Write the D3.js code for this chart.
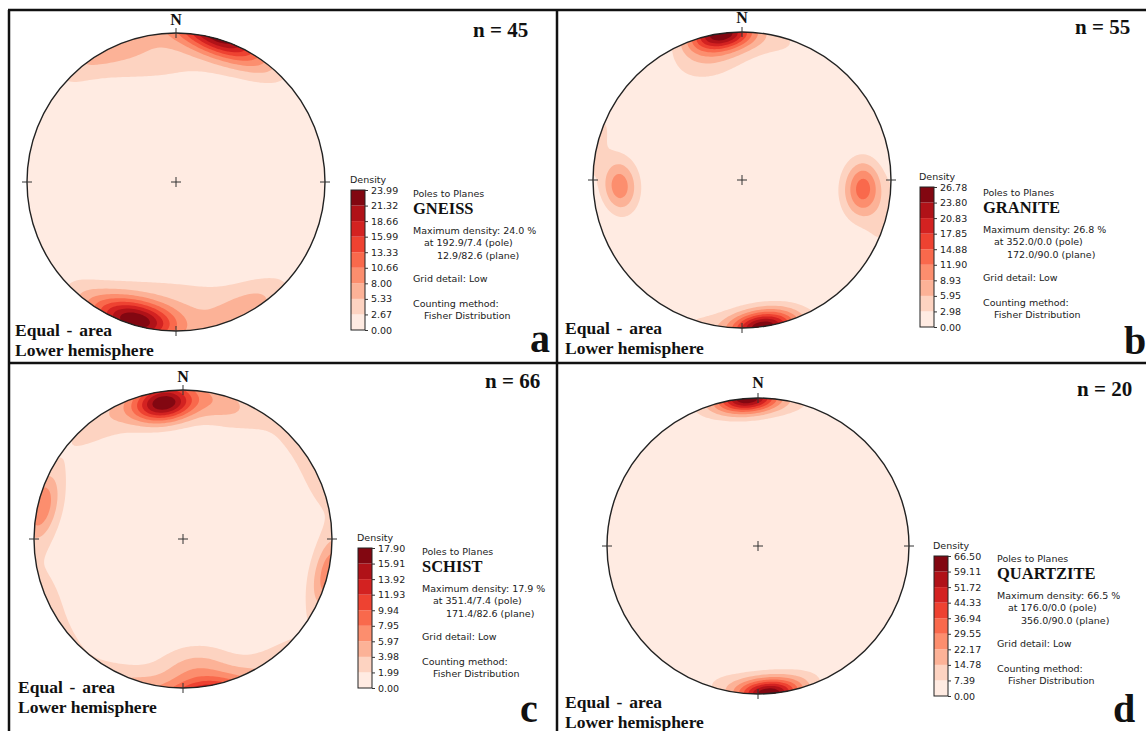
<!DOCTYPE html>
<html>
<head>
<meta charset="utf-8">
<script src="https://cdn.jsdelivr.net/npm/d3@7"></script>
<style>
  body { margin: 0; background: #fff; }
  svg { display: block; }
  .serif { font-family: "Liberation Serif", "Times New Roman", serif; font-weight: bold; fill: #111; }
  .sans { font-family: "DejaVu Sans", sans-serif; font-size: 9.5px; fill: #222; }
</style>
</head>
<body>
<div id="chart"></div>
<script>
// one entry per net
var rockTypes = ["GNEISS", "GRANITE", "SCHIST", "QUARTZITE"];
var panelLetters = ["a", "b", "c", "d"];
var sampleCounts = [45, 55, 66, 20];
var maxDensityText = ["24.0", "26.8", "17.9", "66.5"];
var poleText = ["192.9/7.4", "352.0/0.0", "351.4/7.4", "176.0/0.0"];
var planeText = ["12.9/82.6", "172.0/90.0", "171.4/82.6", "356.0/90.0"];

// colour bar tick labels (also the contour levels)
var gneissTicks = ["0.00", "2.67", "5.33", "8.00", "10.66", "13.33", "15.99", "18.66", "21.32", "23.99"];
var graniteTicks = ["0.00", "2.98", "5.95", "8.93", "11.90", "14.88", "17.85", "20.83", "23.80", "26.78"];
var schistTicks = ["0.00", "1.99", "3.98", "5.97", "7.95", "9.94", "11.93", "13.92", "15.91", "17.90"];
var quartziteTicks = ["0.00", "7.39", "14.78", "22.17", "29.55", "36.94", "44.33", "51.72", "59.11", "66.50"];

// pole clusters: [trend, plunge, weight, kappa]
var gneissPoles = [
  [190, 6, 5, 35], [199, 7, 5, 35], [18, 2, 5, 35], [30, 4, 2, 30],
  [148, 4, 2.6, 28], [165, 12, 1.2, 15], [340, 8, 1.8, 20], [0, 22, 1.4, 10],
  [185, 22, 1.4, 10], [215, 3, 1.5, 30], [300, 4, 0.8, 25]
];
var granitePoles = [
  [352, 0, 10, 45], [345, 15, 2, 22], [15, 3, 1.2, 25],
  [267, 19, 4.4, 45], [94, 20, 5.4, 42], [105, 3, 0.8, 30], [290, 2, 0.6, 30]
];
var schistPoles = [
  [352, 10, 8, 45], [15, 6, 2.5, 25], [335, 5, 1.5, 25], [283, 2, 4.2, 35],
  [172, 3, 1.5, 30], [175, 15, 2, 25], [315, 3, 0.9, 20], [45, 3, 0.9, 20],
  [250, 5, 0.7, 20], [70, 5, 0.6, 20]
];
var quartzitePoles = [
  [176, 0, 10, 55], [165, 2, 1.5, 35], [190, 2, 1.5, 35]
];

var panelTicks = [gneissTicks, graniteTicks, schistTicks, quartziteTicks];
var panelPoles = [gneissPoles, granitePoles, schistPoles, quartzitePoles];

// where each net sits on the page
var layout = [
  {cx: 176, cy: 182, rx: 149, ry: 149, nY: 25, countX: 473, countY: 37, eqX: 15, eqY: 336, letterX: 530, letterY: 352, barX: 351, barY: 190, textX: 413, textY: 197},
  {cx: 742, cy: 180, rx: 149, ry: 148, nY: 23, countX: 1075, countY: 34, eqX: 565, eqY: 334, letterX: 1124, letterY: 354, barX: 920, barY: 187, textX: 983, textY: 196},
  {cx: 183, cy: 539, rx: 149, ry: 149, nY: 382, countX: 485, countY: 388, eqX: 18, eqY: 693, letterX: 520, letterY: 722, barX: 358, barY: 548, textX: 422, textY: 555},
  {cx: 758, cy: 546, rx: 151, ry: 148, nY: 388, countX: 1077, countY: 396, eqX: 565, eqY: 708, letterX: 1113, letterY: 722, barX: 934, barY: 556, textX: 997, textY: 562}
];

var W = 1146, H = 731;
var gridSize = 140, gridExt = 1.03;
var barW = 14, barH = 140;

var svg = d3.select("#chart").append("svg").attr("width", W).attr("height", H);
var defs = svg.append("defs");

function toVector(trend, plunge) {
  var t = trend * Math.PI / 180, p = plunge * Math.PI / 180;
  return [Math.sin(t) * Math.cos(p), Math.cos(t) * Math.cos(p), Math.sin(p)];
}

// fisher counting on an equal-area grid, axial data
function densityGrid(poles, maxValue) {
  var values = new Float64Array(gridSize * gridSize);
  var dirs = poles.map(function(p) { return toVector(p[0], p[1]); });
  var top = 0;
  for (var j = 0; j < gridSize; j++) {
    for (var i = 0; i < gridSize; i++) {
      var u = -gridExt + 2 * gridExt * (i + 0.5) / gridSize;
      var v = -gridExt + 2 * gridExt * (j + 0.5) / gridSize;
      var rr = Math.sqrt(u * u + v * v);
      var r = Math.min(rr, Math.SQRT2 * 0.999);
      var plunge = 90 - 2 * Math.asin(r / Math.SQRT2) * 180 / Math.PI;
      var trend = Math.atan2(u, -v) * 180 / Math.PI;
      var n = toVector(trend, plunge);
      var s = 0;
      for (var k = 0; k < poles.length; k++) {
        var c = dirs[k];
        var cos = Math.abs(n[0] * c[0] + n[1] * c[1] + n[2] * c[2]);
        s += poles[k][2] * Math.exp(poles[k][3] * (cos - 1));
      }
      values[j * gridSize + i] = s;
      if (rr <= 1 && s > top) top = s;
    }
  }
  for (var m = 0; m < values.length; m++) values[m] = values[m] / top * maxValue;
  return values;
}

layout.forEach(function(L, idx) {
  var ticks = panelTicks[idx];
  var levels = ticks.map(function(t) { return +t; });
  var maxValue = levels[levels.length - 1];
  var bands = levels.length - 1;
  var color = function(i) { return d3.interpolateReds((i + 0.5) / bands); };

  var g = svg.append("g");

  // clip to the primitive circle
  defs.append("clipPath").attr("id", "clip" + idx)
    .append("ellipse").attr("cx", L.cx).attr("cy", L.cy).attr("rx", L.rx).attr("ry", L.ry);

  var xs = d3.scaleLinear().domain([0, gridSize]).range([L.cx - gridExt * L.rx, L.cx + gridExt * L.rx]);
  var ys = d3.scaleLinear().domain([0, gridSize]).range([L.cy - gridExt * L.ry, L.cy + gridExt * L.ry]);
  var path = d3.geoPath(d3.geoTransform({
    point: function(x, y) { this.stream.point(xs(x), ys(y)); }
  }));

  var values = densityGrid(panelPoles[idx], maxValue);
  var contours = d3.contours().size([gridSize, gridSize])
    .thresholds(levels.slice(0, bands))(values);

  var net = g.append("g").attr("clip-path", "url(#clip" + idx + ")");
  net.append("ellipse").attr("cx", L.cx).attr("cy", L.cy).attr("rx", L.rx).attr("ry", L.ry)
    .attr("fill", color(0));
  net.selectAll("path").data(contours).enter().append("path")
    .attr("d", path)
    .attr("fill", function(d, i) { return color(i); });

  // primitive circle, cardinal ticks, centre cross
  g.append("ellipse").attr("cx", L.cx).attr("cy", L.cy).attr("rx", L.rx).attr("ry", L.ry)
    .attr("fill", "none").attr("stroke", "#222").attr("stroke-width", 1.4);
  var tk = 5;
  var tickLines = [
    [L.cx, L.cy - L.ry - tk, L.cx, L.cy - L.ry + tk],
    [L.cx, L.cy + L.ry - tk, L.cx, L.cy + L.ry + tk],
    [L.cx - L.rx - tk, L.cy, L.cx - L.rx + tk, L.cy],
    [L.cx + L.rx - tk, L.cy, L.cx + L.rx + tk, L.cy],
    [L.cx - tk, L.cy, L.cx + tk, L.cy],
    [L.cx, L.cy - tk, L.cx, L.cy + tk]
  ];
  g.selectAll("line.tk").data(tickLines).enter().append("line")
    .attr("x1", function(d) { return d[0]; }).attr("y1", function(d) { return d[1]; })
    .attr("x2", function(d) { return d[2]; }).attr("y2", function(d) { return d[3]; })
    .attr("stroke", "#333").attr("stroke-width", 1);

  g.append("text").attr("class", "serif").attr("x", L.cx).attr("y", L.nY)
    .attr("text-anchor", "middle").style("font-size", "16px").text("N");
  g.append("text").attr("class", "serif").attr("x", L.countX).attr("y", L.countY)
    .style("font-size", "21px").text("n = " + sampleCounts[idx]);
  g.append("text").attr("class", "serif").attr("x", L.eqX).attr("y", L.eqY)
    .style("font-size", "17.5px").style("word-spacing", "2.5px").text("Equal - area");
  g.append("text").attr("class", "serif").attr("x", L.eqX).attr("y", L.eqY + 20)
    .style("font-size", "17.5px").text("Lower hemisphere");
  g.append("text").attr("class", "serif").attr("x", L.letterX).attr("y", L.letterY)
    .style("font-size", "40px").text(panelLetters[idx]);

  // colour bar
  var barScale = d3.scaleLinear().domain([0, maxValue]).range([L.barY + barH, L.barY]);
  var bar = g.append("g");
  bar.selectAll("rect").data(d3.range(bands)).enter().append("rect")
    .attr("x", L.barX).attr("width", barW)
    .attr("y", function(i) { return barScale(levels[i + 1]); })
    .attr("height", function(i) { return barScale(levels[i]) - barScale(levels[i + 1]); })
    .attr("fill", function(i) { return color(i); });
  bar.append("rect").attr("x", L.barX).attr("y", L.barY).attr("width", barW).attr("height", barH)
    .attr("fill", "none").attr("stroke", "#222").attr("stroke-width", 1);
  var axis = bar.append("g").attr("transform", "translate(" + (L.barX + barW) + ",0)")
    .call(d3.axisRight(barScale).tickValues(levels).tickSize(3).tickPadding(3)
      .tickFormat(function(d, i) { return ticks[i]; }));
  axis.select(".domain").remove();
  axis.selectAll("line").attr("stroke", "#333");
  axis.selectAll("text").attr("class", "sans").attr("font-size", null).attr("font-family", null);
  axis.attr("font-size", null).attr("font-family", null);
  g.append("text").attr("class", "sans").attr("x", L.barX - 1).attr("y", L.barY - 7).text("Density");

  // info block
  var info = [
    [0, 0, "Poles to Planes"],
    [0, 37, "Maximum density: " + maxDensityText[idx] + " %"],
    [11, 49, "at " + poleText[idx] + " (pole)"],
    [24, 61.5, planeText[idx] + " (plane)"],
    [0, 85, "Grid detail: Low"],
    [0, 110, "Counting method:"],
    [11, 122, "Fisher Distribution"]
  ];
  g.selectAll("text.info").data(info).enter().append("text")
    .attr("class", "sans")
    .attr("x", function(d) { return L.textX + d[0]; })
    .attr("y", function(d) { return L.textY + d[1]; })
    .text(function(d) { return d[2]; });
  g.append("text").attr("class", "serif").attr("x", L.textX).attr("y", L.textY + 17)
    .style("font-size", "16.5px").text(rockTypes[idx]);
});

// panel frame
var frame = [
  [8, 10, W, 10], [9, 10, 9, H], [8, 363, W, 363], [557, 10, 557, H]
];
svg.selectAll("line.frame").data(frame).enter().append("line")
  .attr("x1", function(d) { return d[0]; }).attr("y1", function(d) { return d[1]; })
  .attr("x2", function(d) { return d[2]; }).attr("y2", function(d) { return d[3]; })
  .attr("stroke", "#111").attr("stroke-width", 2.5);
</script>
</body>
</html>
